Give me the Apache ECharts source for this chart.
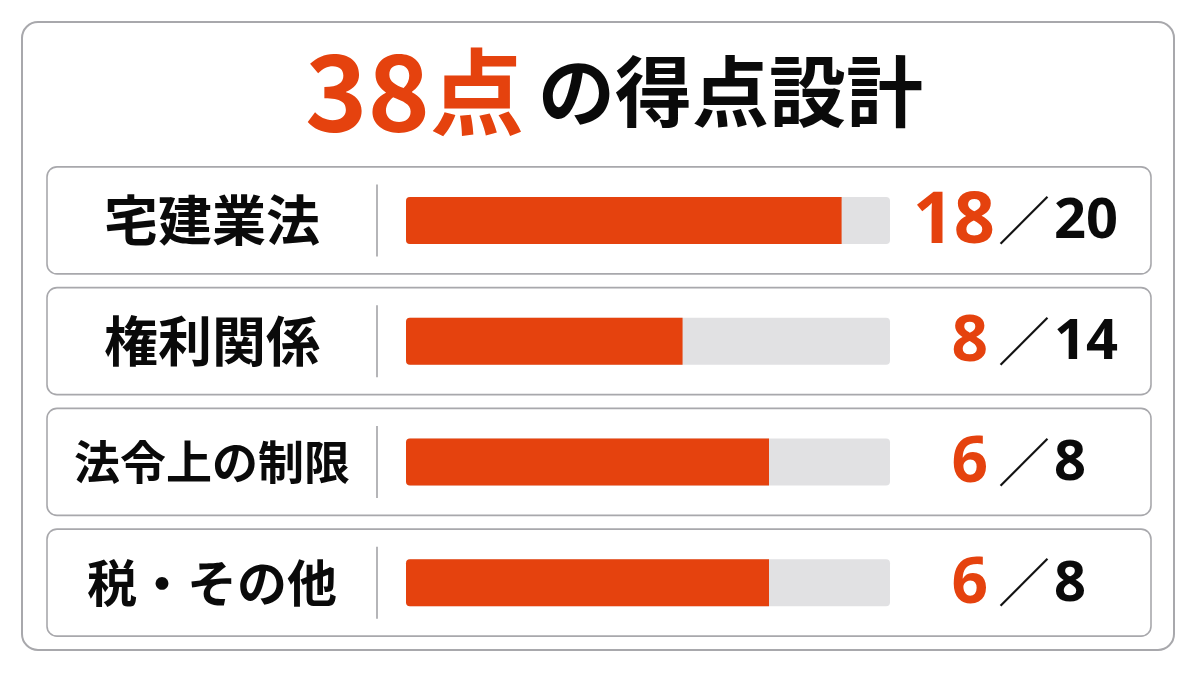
<!DOCTYPE html>
<html>
<head>
<meta charset="utf-8">
<script src="https://cdn.jsdelivr.net/npm/echarts@6/dist/echarts.min.js"></script>
<style>
html,body{margin:0;padding:0;background:#ffffff;}
#c{width:1200px;height:675px;}
</style>
</head>
<body>
<div id="c"></div>
<script>
// ---- data ----
const titleScore = '38';
const titleUnit = '点';
const titleRest = 'の得点設計';
const categories = ['宅建業法', '権利関係', '法令上の制限', '税・その他'];
const scores = [18, 8, 6, 6];
const maxima = [20, 14, 8, 8];

// ---- styling ----
const ORANGE = '#E5420E';
const GRAY_BAR = '#E1E1E3';
const BORDER = '#A8A8AC';
const CJK = '"Noto Sans CJK JP", "Noto Sans", sans-serif';
const NUM = '"Noto Sans", Roboto, sans-serif';
const labelSizes = [54, 54, 46, 50];

const chart = echarts.init(document.getElementById('c'), null, {renderer: 'canvas'});

const option = {
  backgroundColor: '#ffffff',
  animation: false,
  title: {
    text: '{n|' + titleScore + '}{u|' + titleUnit + '}{r|' + titleRest + '}',
    left: 609,
    textAlign: 'center',
    top: 34,
    textStyle: {
      rich: {
        n: {fontSize: 106, fontWeight: 'bold', color: ORANGE, fontFamily: CJK},
        u: {fontSize: 94, fontWeight: 'bold', color: ORANGE, fontFamily: CJK, padding: [0, 14, 0, 0]},
        r: {fontSize: 77, fontWeight: 'bold', color: '#0a0a0a', fontFamily: CJK}
      }
    }
  },
  graphic: [{
    type: 'rect',
    z: -10,
    shape: {x: 22, y: 22, width: 1152, height: 628, r: 16},
    style: {fill: '#ffffff', stroke: BORDER, lineWidth: 2}
  }],
  grid: {left: 406, right: 310, top: 160, bottom: 32, containLabel: false, outerBoundsMode: 'none'},
  xAxis: {type: 'value', min: 0, max: 100, show: false},
  yAxis: {
    type: 'category',
    inverse: true,
    data: categories,
    axisLine: {show: false},
    axisTick: {show: false},
    splitLine: {show: false},
    axisLabel: {show: false}
  },
  series: [
    {
      type: 'custom',
      z: 1,
      clip: false,
      encode: {x: 0, y: 1},
      data: categories.map((c, i) => [100, i, scores[i], maxima[i]]),
      renderItem: function (params, api) {
        const i = api.value(1);
        const p = api.coord([api.value(0), i]);
        const cy = p[1];
        const xr = p[0];
        return {
          type: 'group',
          children: [
            {type: 'rect', shape: {x: 47, y: cy - 53.5, width: 1104, height: 107, r: 10},
              style: {fill: 'none', stroke: BORDER, lineWidth: 1.6}},
            {type: 'line', shape: {x1: 377, y1: cy - 36, x2: 377, y2: cy + 36},
              style: {stroke: '#9C9CA0', lineWidth: 1.5}},
            {type: 'text', style: {text: categories[i], x: 212, y: cy,
              align: 'center', verticalAlign: 'middle', fill: '#0a0a0a',
              fontSize: labelSizes[i], fontWeight: 'bold', fontFamily: CJK}},
            {type: 'text', style: {text: String(api.value(2)), x: xr + (i === 0 ? 105 : 98), y: cy + 2,
              align: 'right', verticalAlign: 'middle', fill: ORANGE,
              fontSize: i === 0 ? 72 : 64, fontWeight: 'bold', fontFamily: NUM}},
            {type: 'text', style: {text: '／', x: xr + 134, y: cy, align: 'center',
              verticalAlign: 'middle', fill: '#111', fontSize: 52, fontWeight: 'normal', fontFamily: CJK}},
            {type: 'text', style: {text: String(api.value(3)), x: xr + 164, y: cy + 2,
              align: 'left', verticalAlign: 'middle', fill: '#0a0a0a',
              fontSize: 56, fontWeight: 'bold', fontFamily: NUM}}
          ]
        };
      }
    },
    {
      type: 'bar',
      z: 3,
      barWidth: 47,
      data: scores.map((s, i) => s / maxima[i] * 100),
      showBackground: true,
      backgroundStyle: {color: GRAY_BAR, borderRadius: 4},
      itemStyle: {color: ORANGE, borderRadius: [4, 0, 0, 4]},
      label: {show: false}
    }
  ]
};
chart.setOption(option);
</script>
</body>
</html>
